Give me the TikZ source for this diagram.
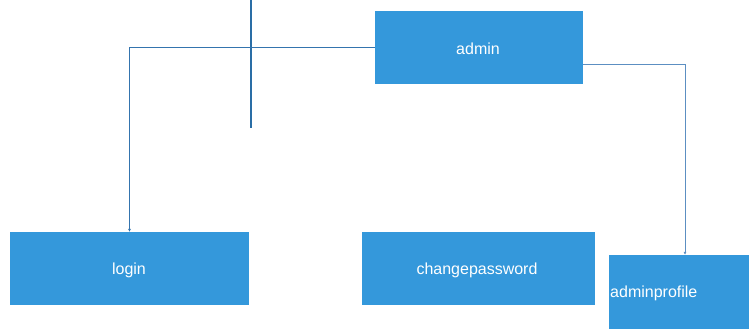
\documentclass[tikz,border=0pt]{standalone}
\usepackage{fontspec}
\setmainfont{Liberation Sans}
\usetikzlibrary{arrows.meta}
\definecolor{boxblue}{HTML}{3498DB}
\definecolor{linkblue}{HTML}{3474AE}
\definecolor{sidelink}{HTML}{5C8FC2}
\definecolor{stemblue}{HTML}{2A6EA6}
\begin{document}
\begin{tikzpicture}[x=1pt,y=-1pt,
  entity/.style={fill=boxblue,draw=none,inner sep=0pt,text=white,
    font=\fontsize{16}{19}\selectfont},
  link/.style={draw=linkblue,line width=1pt,-{Latex[length=3pt,width=3pt]}}]
  \useasboundingbox (0,0) rectangle (749,329);
  % entity boxes
  \node[entity,minimum width=208pt,minimum height=73pt] (admin) at (479,47.5) {};
  \node[text=white,font=\fontsize{16}{19}\selectfont,inner sep=0pt] (admintext) at (478,49) {admin};
  \node[entity,minimum width=239pt,minimum height=73pt] (login) at (129.5,268.5) {};
  \node[text=white,font=\fontsize{16}{19}\selectfont,inner sep=0pt] (logintext) at (129,270.5) {login};
  \node[entity,minimum width=233pt,minimum height=73pt] (change) at (478.5,268.5) {};
  \node[text=white,font=\fontsize{16}{19}\selectfont,inner sep=0pt] (changetext) at (477,270.5) {changepassword};
  \node[entity,minimum width=140pt,minimum height=74pt] (profile) at (679,292) {};
  \node[text=white,font=\fontsize{16}{19}\selectfont,inner sep=0pt,anchor=west] (profiletext) at (610,293.5) {adminprofile};
  % vertical stem at the top
  \coordinate (stemtop) at (251,0);
  \coordinate (stembot) at (251,128);
  \draw[stemblue,line width=2pt] (stemtop) -- (stembot);
  % connectors from admin
  \draw[link] (admin.west) -| (login.north);
  \draw[link,draw=sidelink] (admin.east |- 0,65) -| (profile.north -| 685,0);
\end{tikzpicture}
\end{document}
